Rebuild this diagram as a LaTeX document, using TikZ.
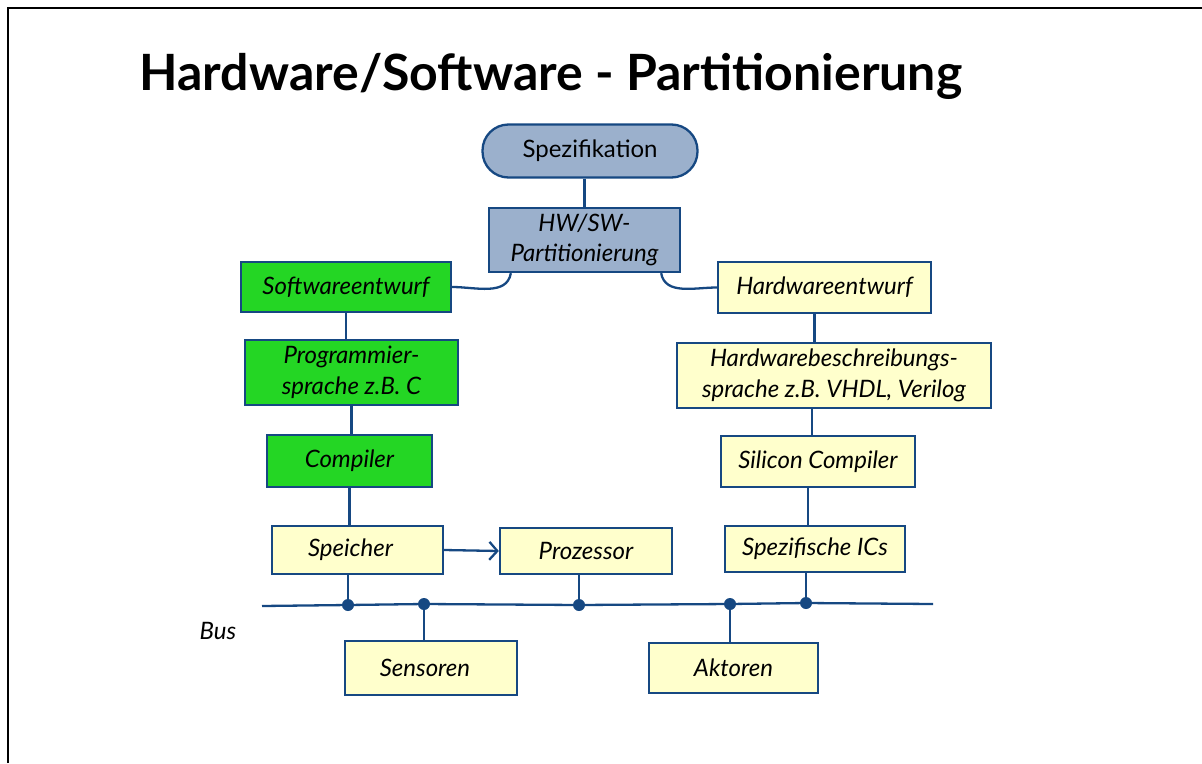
\documentclass[tikz,border=0pt]{standalone}
\usepackage{fontspec}
\setmainfont{Lato}
\usetikzlibrary{arrows.meta,calc}
\definecolor{edge}{RGB}{22,72,130}
\definecolor{grn}{RGB}{36,214,36}
\definecolor{ylw}{RGB}{255,255,204}
\definecolor{hwblue}{RGB}{155,176,204}
\begin{document}
\begin{tikzpicture}[x=1pt,y=-1pt,
  box/.style={draw=edge, line width=2.3pt, inner sep=0pt, align=center,
    font=\fontsize{24}{30.5}\selectfont\itshape},
  gbox/.style={box, fill=grn},
  ybox/.style={box, fill=ylw},
  conn/.style={draw=edge, line width=2.3pt},
  dot/.style={fill=edge}]
\useasboundingbox (0,0) rectangle (1202,763);
\draw[line width=2.8pt] (8,763) -- (8,8) -- (1202,8);

\node[anchor=base west, font=\fontsize{50}{60}\selectfont\bfseries] (title) at (136,90) {Hardware/Software - Partitionierung};

\node[box, fill=hwblue, rounded corners=26pt, minimum width=215pt, minimum height=53pt, font=\fontsize{24}{30}\selectfont] (spec) at (590,151) {Spezifikation};
\node[box, fill=hwblue, minimum width=191pt, minimum height=64pt] (hwsw) at (584.5,240) {HW/SW-\\Partitionierung};
\node[gbox, minimum width=210pt, minimum height=50pt] (sw) at (346,287) {Softwareentwurf};
\node[ybox, minimum width=213pt, minimum height=51pt] (hwe) at (824.5,287.5) {Hardwareentwurf};
\node[gbox, minimum width=213pt, minimum height=65pt] (prog) at (351.5,372.5) {Programmier-\\sprache z.B. C};
\node[ybox, minimum width=314pt, minimum height=65pt] (hdl) at (834,375.5) {Hardwarebeschreibungs-\\sprache z.B. VHDL, Verilog};
\node[gbox, minimum width=165pt, minimum height=52pt] (comp) at (349.5,461) {Compiler};
\node[ybox, minimum width=194pt, minimum height=51pt] (sic) at (818,461.5) {Silicon Compiler};
\node[ybox, minimum width=171pt, minimum height=48pt, text width=171pt, align=center, xshift=0pt] (spe) at (357.5,550) {\hspace*{-14pt}Speicher};
\node[ybox, minimum width=172pt, minimum height=46pt] (proz) at (586,551) {Prozessor};
\node[ybox, minimum width=180pt, minimum height=46pt] (ics) at (815,549) {Spezifische ICs};
\node[ybox, minimum width=172pt, minimum height=54pt, text width=172pt] (sens) at (431,668) {\hspace*{-12pt}Sensoren};
\node[ybox, minimum width=169pt, minimum height=50pt] (akt) at (733.5,668) {Aktoren};
\node[font=\fontsize{24}{30}\selectfont\itshape] (bus) at (218,631) {Bus};

% connectors
\draw[conn] (spec.south -| hwsw.north) -- (hwsw.north);
\draw[conn] ([xshift=23pt]hwsw.south west) to[out=-100,in=0] (sw.east);
\draw[conn] ([xshift=-20pt]hwsw.south east) to[out=-80,in=180] (hwe.west);
\draw[conn] (sw.south) -- (sw.south |- prog.north);
\draw[conn] ([xshift=-10pt]hwe.south) -- ([xshift=-10pt]hwe.south |- hdl.north);
\draw[conn] (prog.south) -- (prog.south |- comp.north);
\draw[conn] ([xshift=-22pt]hdl.south) -- ([xshift=-22pt]hdl.south |- sic.north);
\draw[conn] (comp.south) -- (comp.south |- spe.north);
\draw[conn] ([xshift=-10pt]sic.south) -- ([xshift=-10pt]sic.south |- ics.north);
\draw[conn, -{Straight Barb[length=8pt,width=18pt,line width=2.3pt]}] (spe.east) -- (proz.west);

% bus
\coordinate (busL) at (262,606);
\coordinate (busR) at (933,604);
\coordinate (d1) at (348,605);
\coordinate (d2) at (424,604);
\coordinate (d3) at (579,605);
\coordinate (d4) at (730,604);
\coordinate (d5) at (806,603);
\draw[conn] (busL) -- (d1) -- (d2) -- (d3) -- (d4) -- (d5) -- (busR);
\draw[conn] (spe.south -| d1) -- (d1);
\draw[conn] (proz.south -| d3) -- (d3);
\draw[conn] (ics.south -| d5) -- (d5);
\draw[conn] (d2) -- (d2 |- sens.north);
\draw[conn] (d4) -- (d4 |- akt.north);
\foreach \d in {d1,d2,d3,d4,d5} \fill[dot] (\d) circle (6pt);
\end{tikzpicture}
\end{document}
